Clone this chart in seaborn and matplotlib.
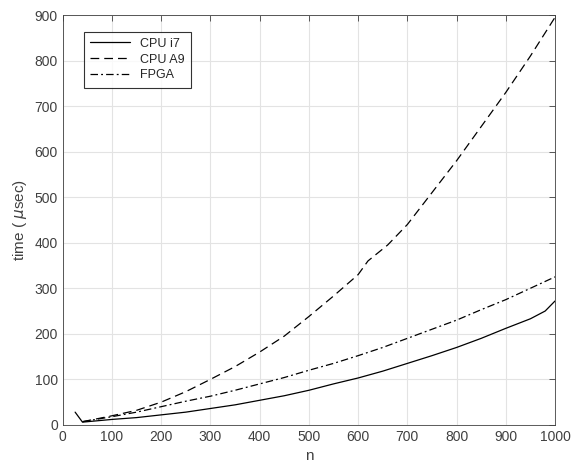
import numpy as np
import pandas as pd
import seaborn as sns
import matplotlib.pyplot as plt

# values
n_i7 = [25, 40, 50, 100, 150, 200, 250, 300, 350, 400, 450, 500, 550, 600,
        650, 700, 750, 800, 850, 900, 950, 980, 1000]
t_i7 = [28, 6, 7, 12, 16, 22, 28, 36, 44, 54, 64, 76, 90, 103,
        118, 135, 152, 170, 190, 212, 233, 250, 272]

n_a9 = [40, 100, 150, 200, 250, 300, 350, 400, 450, 500, 550, 600, 620,
        660, 700, 750, 800, 850, 900, 950, 1000]
t_a9 = [7, 20, 32, 50, 73, 100, 128, 160, 195, 238, 283, 330, 360,
        395, 440, 510, 580, 655, 730, 810, 895]

n_fpga = [40, 100, 150, 200, 250, 300, 350, 400, 450, 500, 550, 600, 650,
          700, 750, 800, 850, 900, 950, 1000]
t_fpga = [7, 18, 28, 40, 52, 63, 76, 90, 104, 120, 135, 152, 170,
          190, 210, 230, 253, 275, 300, 325]

df = pd.concat([
    pd.DataFrame({"n": n_i7, "t": t_i7, "dev": "CPU i7"}),
    pd.DataFrame({"n": n_a9, "t": t_a9, "dev": "CPU A9"}),
    pd.DataFrame({"n": n_fpga, "t": t_fpga, "dev": "FPGA"}),
])

sns.set_style("white")
plt.rcParams["font.family"] = ["Liberation Sans", "DejaVu Sans"]
plt.rcParams["mathtext.fontset"] = "dejavusans"

fig = plt.figure(figsize=(5.71, 4.70), dpi=100)
ax = fig.add_axes([0.110, 0.096, 0.862, 0.872])

sns.lineplot(data=df, x="n", y="t", style="dev", color="black", lw=0.9,
             dashes={"CPU i7": "", "CPU A9": (7, 4), "FPGA": (6, 2.5, 1.5, 2.5)},
             sort=False, ax=ax)

ax.set_xlim(0, 1000)
ax.set_ylim(0, 900)
ax.set_xticks(np.arange(0, 1001, 100))
ax.set_yticks(np.arange(0, 901, 100))
ax.grid(True, color="#e3e3e3", lw=0.8)
ax.tick_params(direction="in", top=True, right=True, length=4, width=0.6,
               colors="#404040", labelsize=10, labelcolor="#404040")
for s in ax.spines.values():
    s.set_color("#404040")
    s.set_linewidth(0.6)
ax.set_xlabel("n", fontsize=11, color="#404040")
ax.set_ylabel(r"time ( $\mu$sec)", fontsize=11, color="#404040")

leg = ax.legend(loc="upper left", bbox_to_anchor=(0.03, 0.975), fontsize=9,
                frameon=True, fancybox=False, edgecolor="black",
                handlelength=3.2, borderpad=0.5, labelspacing=0.3)
leg.get_frame().set_linewidth(0.8)

fig.savefig("out.png", dpi=100)
